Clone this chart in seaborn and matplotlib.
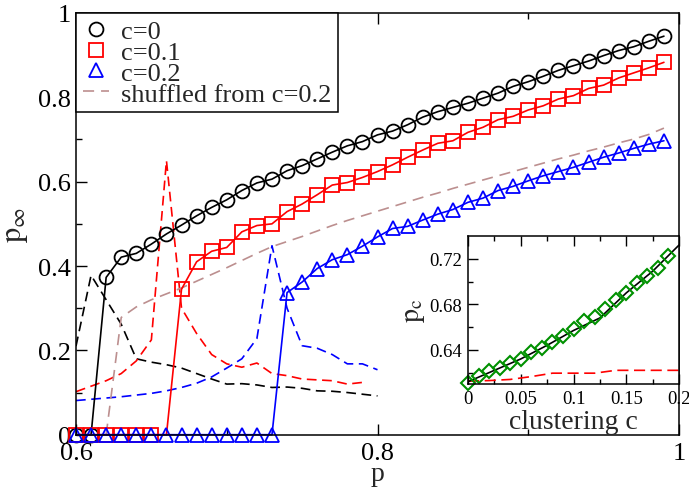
import matplotlib
matplotlib.use("Agg")
import matplotlib.pyplot as plt
from matplotlib.lines import Line2D
from matplotlib.ticker import MultipleLocator, FixedLocator, FuncFormatter
import seaborn as sns

# occupation probability grid
p_grid = [0.60, 0.61, 0.62, 0.63, 0.64, 0.65, 0.66, 0.67, 0.68, 0.69,
          0.70, 0.71, 0.72, 0.73, 0.74, 0.75, 0.76, 0.77, 0.78, 0.79,
          0.80, 0.81, 0.82, 0.83, 0.84, 0.85, 0.86, 0.87, 0.88, 0.89,
          0.90, 0.91, 0.92, 0.93, 0.94, 0.95, 0.96, 0.97, 0.98, 0.99]

# giant component fraction for each clustering level
pinf_c0 = [0.0, 0.0, 0.373, 0.421, 0.430, 0.452, 0.476, 0.497, 0.519, 0.539,
           0.557, 0.579, 0.597, 0.606, 0.626, 0.638, 0.654, 0.670, 0.685, 0.695,
           0.711, 0.720, 0.735, 0.753, 0.766, 0.776, 0.786, 0.798, 0.810, 0.826,
           0.837, 0.850, 0.864, 0.875, 0.886, 0.899, 0.911, 0.920, 0.933, 0.945]
pinf_c01 = [0.0, 0.0, 0.0, 0.0, 0.0, 0.0, 0.0, 0.345, 0.410, 0.435,
            0.444, 0.481, 0.496, 0.500, 0.529, 0.547, 0.569, 0.592, 0.598, 0.610,
            0.624, 0.640, 0.658, 0.675, 0.691, 0.697, 0.717, 0.729, 0.747, 0.755,
            0.770, 0.780, 0.796, 0.804, 0.821, 0.829, 0.846, 0.858, 0.870, 0.883]
pinf_c02 = [0.0, 0.0, 0.0, 0.0, 0.0, 0.0, 0.0, 0.0, 0.0, 0.0,
            0.0, 0.0, 0.0, 0.0, 0.337, 0.362, 0.394, 0.415, 0.427, 0.447,
            0.469, 0.489, 0.494, 0.509, 0.523, 0.534, 0.551, 0.561, 0.579, 0.589,
            0.602, 0.614, 0.624, 0.634, 0.646, 0.658, 0.668, 0.679, 0.689, 0.697]

# shuffled network (from c=0.2)
p_shuf = p_grid[2:]
pinf_shuf = [0.0, 0.278, 0.303, 0.320, 0.334, 0.348, 0.364, 0.380, 0.396, 0.413,
             0.430, 0.446, 0.458, 0.470, 0.483, 0.496, 0.508, 0.519, 0.530, 0.541,
             0.552, 0.563, 0.573, 0.584, 0.594, 0.604, 0.614, 0.624, 0.634, 0.644,
             0.654, 0.663, 0.673, 0.682, 0.692, 0.701, 0.712, 0.727]

# fluctuation curves (dashed)
p_fluc = p_grid[:21]
fluc_c0 = [0.210, 0.378, 0.320, 0.262, 0.180, 0.172, 0.166, 0.158, 0.145, 0.132,
           0.120, 0.121, 0.118, 0.112, 0.113, 0.110, 0.104, 0.103, 0.100, 0.096,
           0.092]
fluc_c01 = [0.102, 0.115, 0.128, 0.145, 0.175, 0.225, 0.650, 0.300, 0.240, 0.190,
            0.168, 0.160, 0.170, 0.145, 0.140, 0.132, 0.130, 0.128, 0.120, 0.124]
fluc_c02 = [0.081, 0.084, 0.087, 0.090, 0.094, 0.098, 0.104, 0.112, 0.122, 0.137,
            0.158, 0.180, 0.228, 0.448, 0.300, 0.211, 0.205, 0.190, 0.168, 0.168,
            0.154]

# inset: percolation threshold versus clustering
c_sim = [0.00, 0.01, 0.02, 0.03, 0.04, 0.05, 0.06, 0.07, 0.08, 0.09,
         0.10, 0.11, 0.12, 0.13, 0.14, 0.15, 0.16, 0.17, 0.18, 0.19]
pc_sim = [0.611, 0.617, 0.621, 0.624, 0.628, 0.632, 0.638, 0.642, 0.647, 0.652,
          0.658, 0.665, 0.669, 0.676, 0.684, 0.690, 0.699, 0.705, 0.712, 0.722]
c_theory = [0.0, 0.025, 0.05, 0.075, 0.10, 0.125, 0.15, 0.175, 0.20]
pc_theory = [0.612, 0.622, 0.632, 0.644, 0.657, 0.668, 0.690, 0.709, 0.732]
c_shuf = [0.0, 0.02, 0.04, 0.06, 0.08, 0.10, 0.12, 0.14, 0.16, 0.18, 0.20]
pc_shuf = [0.6125, 0.613, 0.614, 0.6165, 0.6195, 0.6195, 0.6195, 0.622, 0.622,
           0.622, 0.622]

legend_labels = ["c=0", "c=0.1", "c=0.2", "shuffled from c=0.2"]

sns.set_style("ticks")
plt.rcParams["font.family"] = ["Liberation Serif", "DejaVu Serif"]
plt.rcParams["mathtext.fontset"] = "stix"
plt.rcParams["lines.scale_dashes"] = False

BROWN = "#bc8f8f"
GREEN = "#009100"
DASH = (0, (7, 4))
LW = 1.2
MEW = 1.3

fig = plt.figure(figsize=(6.89, 4.89), dpi=100)
ax = fig.add_axes([0.1103, 0.109, 0.8752, 0.8624])

# dashed fluctuation curves
for yv, col, xs in [(fluc_c0, "black", p_fluc), (fluc_c01, "red", p_grid[:20]),
                    (fluc_c02, "blue", p_fluc)]:
    sns.lineplot(x=xs, y=yv, ax=ax, color=col, linewidth=LW, linestyle=DASH,
                 errorbar=None)

sns.lineplot(x=p_shuf, y=pinf_shuf, ax=ax, color=BROWN, linewidth=LW,
             linestyle=(0, (8, 5)), errorbar=None)

series = [(pinf_c0, "black", "o", 10, list(range(40))),
          (pinf_c01, "red", "s", 9.5, [i for i in range(40) if i != 6]),
          (pinf_c02, "blue", "^", 10.5, list(range(40)))]
for yv, col, mk, ms, every in series:
    sns.lineplot(x=p_grid, y=yv, ax=ax, color=col, linewidth=LW, marker=mk,
                 markersize=ms, markerfacecolor="none", markeredgecolor=col,
                 markeredgewidth=MEW, markevery=every, clip_on=False,
                 errorbar=None)

ax.set_xlim(0.6, 1.0)
ax.set_ylim(0, 1)
ax.xaxis.set_major_locator(MultipleLocator(0.2))
ax.xaxis.set_minor_locator(MultipleLocator(0.1))
ax.yaxis.set_major_locator(MultipleLocator(0.2))
ax.yaxis.set_minor_locator(MultipleLocator(0.1))
fmt = FuncFormatter(lambda v, pos: "%g" % round(v, 3))
ax.xaxis.set_major_formatter(fmt)
ax.yaxis.set_major_formatter(fmt)
ax.tick_params(which="both", direction="in", top=True, right=False,
               labelsize=19, width=1.0, colors="black")
ax.tick_params(axis="x", which="both", pad=5)
ax.tick_params(which="major", length=8)
ax.tick_params(which="minor", length=4)
for s in ax.spines.values():
    s.set_visible(True)
    s.set_linewidth(1.1)
    s.set_color("black")
ax.set_xlabel("p", fontsize=20, labelpad=-2)
ax.set_ylabel(r"$\mathrm{p}_{\infty}$", fontsize=22, labelpad=6)

handles = [
    Line2D([], [], ls="none", marker="o", markersize=10, mfc="none", mec="black", mew=MEW),
    Line2D([], [], ls="none", marker="s", markersize=9.5, mfc="none", mec="red", mew=MEW),
    Line2D([], [], ls="none", marker="^", markersize=10.5, mfc="none", mec="blue", mew=MEW),
    Line2D([], [], color=BROWN, lw=LW, ls=(0, (8, 5))),
]
leg = ax.legend(handles, legend_labels, loc="upper left", fontsize=19,
                borderaxespad=0, borderpad=0.25, labelspacing=-0.1,
                handlelength=1.0, handletextpad=0.45, frameon=True,
                fancybox=False, framealpha=1)
leg.get_frame().set_edgecolor("black")
leg.get_frame().set_linewidth(1.1)

# inset
axin = fig.add_axes([0.6793, 0.2127, 0.3062, 0.3027])
axin.set_facecolor("white")
sns.lineplot(x=c_shuf, y=pc_shuf, ax=axin, color="red", linewidth=LW,
             linestyle=(0, (8, 4)), errorbar=None)
sns.lineplot(x=c_theory, y=pc_theory, ax=axin, color="black", linewidth=LW,
             errorbar=None)
sns.lineplot(x=c_sim, y=pc_sim, ax=axin, color=GREEN, linewidth=0, marker="D",
             markersize=7.5, markerfacecolor="none", markeredgecolor=GREEN,
             markeredgewidth=1.5, clip_on=False, errorbar=None)
axin.set_xlim(0, 0.2)
axin.set_ylim(0.61, 0.74)
axin.xaxis.set_major_locator(MultipleLocator(0.05))
axin.xaxis.set_minor_locator(MultipleLocator(0.025))
axin.yaxis.set_major_locator(FixedLocator([0.64, 0.68, 0.72]))
axin.yaxis.set_minor_locator(FixedLocator([0.62, 0.66, 0.70]))
axin.xaxis.set_major_formatter(fmt)
axin.yaxis.set_major_formatter(FuncFormatter(lambda v, pos: "%.2f" % v))
axin.tick_params(which="both", direction="in", top=True, right=False,
                 labelsize=13.5, width=1.0, colors="black", pad=4)
axin.tick_params(which="major", length=7)
axin.tick_params(which="minor", length=3.5)
for s in axin.spines.values():
    s.set_visible(True)
    s.set_linewidth(1.1)
    s.set_color("black")
axin.set_xlabel("clustering c", fontsize=20, labelpad=2)
axin.set_ylabel(r"$\mathrm{p}_{\mathrm{c}}$", fontsize=20, labelpad=2)

fig.savefig("out.png", dpi=100)
